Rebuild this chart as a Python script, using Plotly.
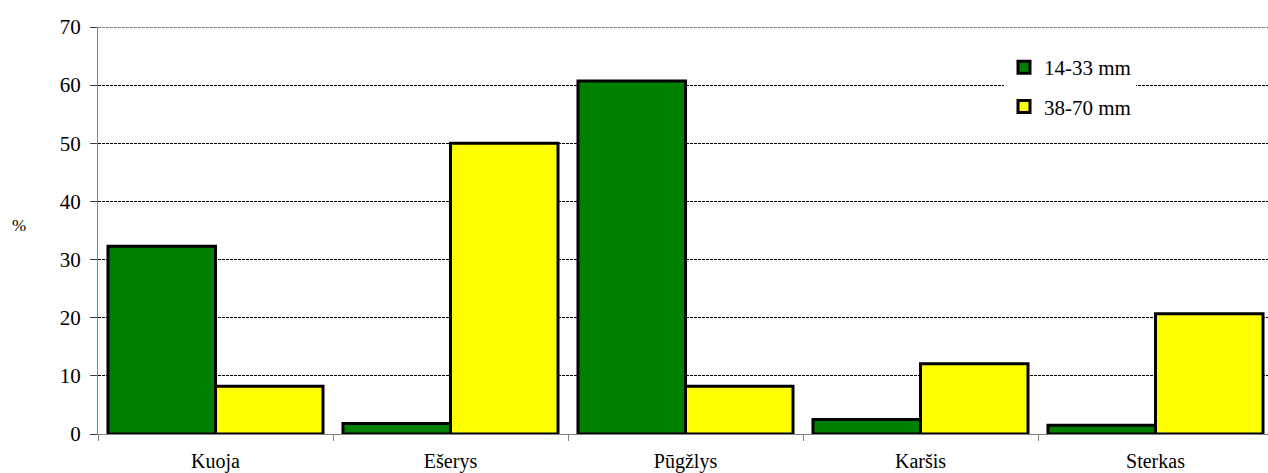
import plotly.graph_objects as go

species = ["Kuoja", "Ešerys", "Pūgžlys", "Karšis", "Sterkas"]
small_mesh = [32.3, 1.8, 60.7, 2.5, 1.5]      # 14-33 mm
large_mesh = [8.2, 50.0, 8.2, 12.1, 20.7]     # 38-70 mm
series_names = ["14-33 mm", "38-70 mm"]
y_ticks = [0, 10, 20, 30, 40, 50, 60, 70]

W, H = 1268, 473
L, R, T, B = 98, 0, 27, 39
plot_w = W - L - R
cat_w = 235.0  # pixels per category

FONT = "Liberation Serif, Times New Roman, DejaVu Serif, serif"

fig = go.Figure()
fig.add_trace(go.Bar(
    x=species, y=small_mesh, name=series_names[0],
    marker=dict(color="#008000", line=dict(color="black", width=3)),
    legendgroup="a",
))
fig.add_trace(go.Bar(
    x=species, y=large_mesh, name=series_names[1],
    marker=dict(color="#FFFF00", line=dict(color="black", width=3)),
    legendgroup="b",
))

fig.update_layout(
    width=W, height=H,
    margin=dict(l=L, r=R, t=T, b=B, pad=0, autoexpand=False),
    paper_bgcolor="white", plot_bgcolor="white",
    font=dict(family=FONT, size=20, color="black"),
    barmode="group", bargap=0.085, bargroupgap=0,
    showlegend=True,
    legend=dict(
        x=(1004 - L) / plot_w, y=(434 - 47) / 407,
        xanchor="left", yanchor="top",
        xref="paper", yref="paper",
        bgcolor="white", borderwidth=0,
        font=dict(family=FONT, size=21),
        tracegroupgap=9,
        itemwidth=30,
    ),
    xaxis=dict(
        type="category",
        range=[-0.5, -0.5 + plot_w / cat_w],
        tickson="boundaries",
        ticks="outside", ticklen=6, tickcolor="#808080", tickwidth=1,
        showline=True, linecolor="#808080", linewidth=1,
        showgrid=False,
        tickfont=dict(family=FONT, size=20),
        ticklabelstandoff=9,
        automargin=False,
    ),
    yaxis=dict(
        range=[0, 70],
        tickvals=y_ticks,
        ticks="outside", ticklen=7, tickcolor="#404040", tickwidth=1,
        showline=True, linecolor="#808080", linewidth=1,
        showgrid=True, gridcolor="black", gridwidth=1, griddash="3px,1px",
        tickfont=dict(family=FONT, size=21),
        zeroline=False,
        ticklabelstandoff=5,
        automargin=False,
    ),
    shapes=[dict(
        type="line", xref="paper", yref="y", x0=0, x1=1, y0=70, y1=70,
        line=dict(color="black", width=1, dash="3px,1px"), layer="below",
    )],
    annotations=[dict(
        text="%", xref="paper", yref="paper",
        x=(19 - L) / plot_w, y=(434 - 225) / 407,
        xanchor="center", yanchor="middle", showarrow=False,
        font=dict(family=FONT, size=17),
    )],
)

fig.write_html("out.html")
